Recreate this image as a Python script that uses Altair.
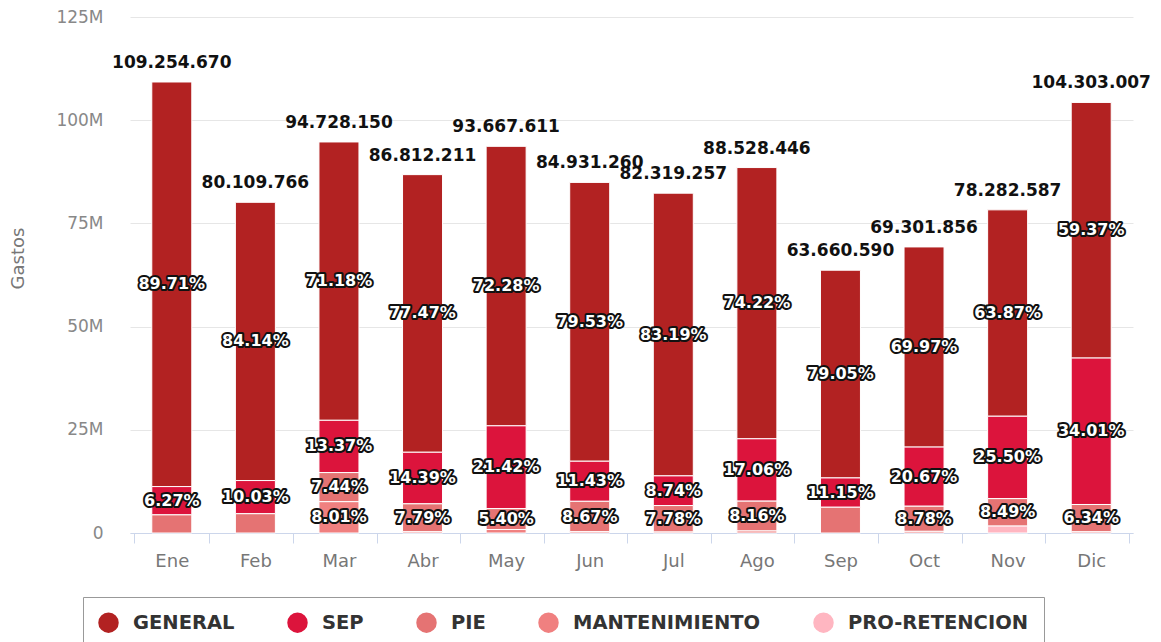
import altair as alt
import pandas as pd

meses = ["Ene", "Feb", "Mar", "Abr", "May", "Jun", "Jul", "Ago", "Sep", "Oct", "Nov", "Dic"]
totales = [109254670, 80109766, 94728150, 86812211, 93667611, 84931260,
           82319257, 88528446, 63660590, 69301856, 78282587, 104303007]

series = ["GENERAL", "SEP", "PIE", "MANTENIMIENTO", "PRO-RETENCION"]
colores = ["#B22222", "#DC143C", "#E57373", "#F08080", "#FFB6C1"]

# porcentaje de cada serie sobre el total mensual
pct_general = [89.71, 84.14, 71.18, 77.47, 72.28, 79.53, 83.19, 74.22, 79.05, 69.97, 63.87, 59.37]
pct_sep = [6.27, 10.03, 13.37, 14.39, 21.42, 11.43, 8.74, 17.06, 11.15, 20.67, 25.50, 34.01]
pct_pie = [4.02, 5.83, 7.44, 7.79, 5.40, 8.67, 7.78, 8.16, 9.80, 8.78, 8.49, 6.34]
pct_mant = [0.0, 0.0, 8.01, 0.35, 0.90, 0.37, 0.29, 0.56, 0.0, 0.58, 0.0, 0.28]
pct_pro = [0.0, 0.0, 0.0, 0.0, 0.0, 0.0, 0.0, 0.0, 0.0, 0.0, 2.14, 0.0]

# etiquetas ocultas en el original (por solaparse)
ocultas = [("Ene", "PIE"), ("Feb", "PIE"), ("Sep", "PIE")]

pcts = {"GENERAL": pct_general, "SEP": pct_sep, "PIE": pct_pie,
        "MANTENIMIENTO": pct_mant, "PRO-RETENCION": pct_pro}

rows = []
for i, m in enumerate(meses):
    for k, s in enumerate(series):
        p = pcts[s][i]
        if p <= 0:
            continue
        rows.append({
            "mes": m,
            "serie": s,
            "rank": len(series) - k,
            "monto": totales[i] * p / 100.0,
            "pct": p,
            "etiqueta": f"{p:.2f}%",
            "mostrar": (p >= 5) and ((m, s) not in ocultas),
        })
df = pd.DataFrame(rows)

df_tot = pd.DataFrame({
    "mes": meses,
    "total": totales,
    "texto": [f"{t:,}".replace(",", ".") for t in totales],
})

x_enc = alt.X("mes:N", sort=meses, title=None,
              axis=alt.Axis(labelAngle=0, tickBand="extent", domainColor="#ccd6eb",
                            tickColor="#ccd6eb", tickSize=10, labelColor="#777777",
                            labelFontSize=18, labelFont="DejaVu Sans", labelPadding=9,
                            grid=False))

y_scale = alt.Scale(domain=[0, 125e6], nice=False)

bars = alt.Chart(df).mark_bar(size=40, stroke="white", strokeWidth=1).encode(
    x=x_enc,
    y=alt.Y("monto:Q", stack="zero", scale=y_scale, title="Gastos",
            axis=alt.Axis(values=[0, 25e6, 50e6, 75e6, 100e6, 125e6],
                          labelExpr="datum.value == 0 ? '0' : (datum.value / 1000000) + 'M'",
                          domain=False, ticks=False, gridColor="#e6e6e6",
                          labelColor="#888888", labelFontSize=17, labelFont="DejaVu Sans",
                          labelPadding=27, titleColor="#777777", titleFontSize=18,
                          titleFont="DejaVu Sans", titleFontWeight="normal",
                          titleX=-112, titleY=241, titleAngle=270,
                          titleAlign="center", titleBaseline="middle")),
    color=alt.Color("serie:N", scale=alt.Scale(domain=series, range=colores), title=None,
                    legend=alt.Legend(orient="none", direction="horizontal",
                                      legendX=-47, legendY=580,
                                      symbolType="circle", symbolSize=420,
                                      symbolStrokeWidth=0, symbolOpacity=1,
                                      labelFontSize=19.5, labelFont="DejaVu Sans",
                                      labelFontWeight="bold", labelColor="#333333",
                                      columnPadding=52, labelOffset=14,
                                      labelLimit=400,
                                      padding=15, strokeColor="#999999",
                                      fillColor="white")),
    order=alt.Order("rank:Q", sort="ascending"),
)

base_lbl = alt.Chart(df).transform_stack(
    stack="monto", groupby=["mes"], sort=[alt.SortField("rank", order="ascending")],
    as_=["y0", "y1"],
).transform_calculate(
    mid="(datum.y0 + datum.y1) / 2"
).transform_filter("datum.mostrar")

lbl_outline = base_lbl.mark_text(font="DejaVu Sans", fontWeight="bold", fontSize=16,
                                 stroke="#111111", strokeWidth=4, fill="#111111",
                                 strokeJoin="round").encode(
    x=alt.X("mes:N", sort=meses),
    y=alt.Y("mid:Q", scale=y_scale),
    text="etiqueta:N",
)
lbl_fill = base_lbl.mark_text(font="DejaVu Sans", fontWeight="bold", fontSize=16,
                              fill="white").encode(
    x=alt.X("mes:N", sort=meses),
    y=alt.Y("mid:Q", scale=y_scale),
    text="etiqueta:N",
)

tot = alt.Chart(df_tot).mark_text(font="DejaVu Sans", fontWeight="bold", fontSize=17,
                                  color="#111111", baseline="bottom", dy=-10).encode(
    x=alt.X("mes:N", sort=meses),
    y=alt.Y("total:Q", scale=y_scale),
    text="texto:N",
)

chart = alt.layer(bars, lbl_outline, lbl_fill, tot).properties(
    width=1003, height=516,
    background="white",
    padding={"left": 122, "top": 9, "right": 20, "bottom": 110},
    autosize=alt.AutoSizeParams(type="none"),
).configure_view(stroke=None)

chart.save("out.html", embed_options={"renderer": "svg", "actions": False})
